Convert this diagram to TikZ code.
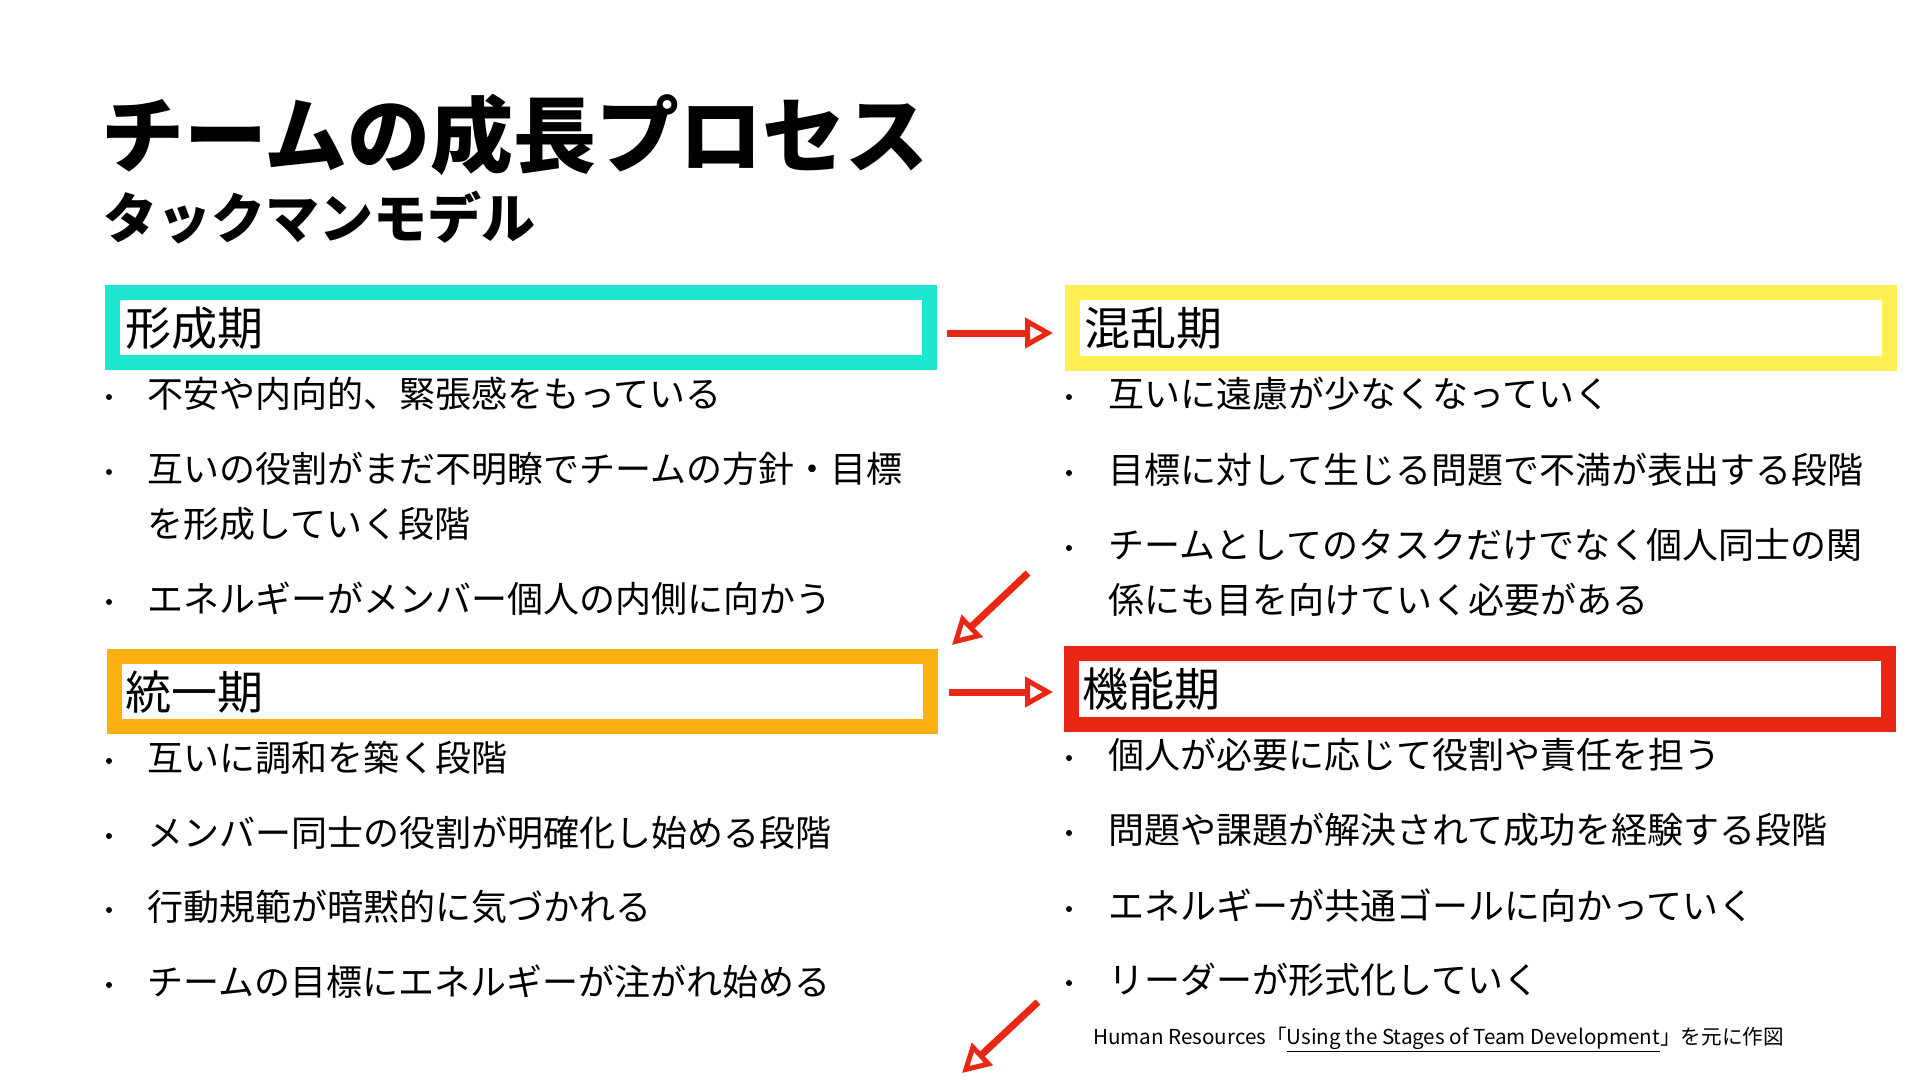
\documentclass[tikz,border=0pt]{standalone}
\usepackage{fontspec}
\setmainfont{Noto Sans CJK JP}
\usetikzlibrary{arrows.meta}
\definecolor{cteal}{RGB}{29,230,209}
\definecolor{cyellow}{RGB}{255,239,84}
\definecolor{corange}{RGB}{252,176,18}
\definecolor{cred}{RGB}{234,38,20}
\tikzset{
  stagebox/.style={draw=#1, line width=15pt, fill=none},
  head/.style={anchor=west, inner sep=0pt, font=\fontsize{46}{46}\selectfont, text height=40.5pt, text depth=5.5pt},
  txt/.style={anchor=west, inner sep=0pt, font=\fontsize{36}{36}\selectfont, text height=31.7pt, text depth=4.3pt},
  dot/.style={circle, fill=black, inner sep=0pt, minimum size=6pt},
  flow/.style={draw=cred, line width=7pt, -{Triangle[open, length=28pt, width=30pt, line width=5pt, fill=white]}},
}
\begin{document}
\begin{tikzpicture}[x=1pt, y=-1pt]
\useasboundingbox (0,0) rectangle (1920,1080);
\fill[white] (0,0) rectangle (1920,1080);

% title
\node[anchor=west, inner sep=0pt, font=\fontsize{83}{83}\selectfont\bfseries, text height=73pt, text depth=10pt] (title) at (101,135) {チームの成長プロセス};
\node[anchor=west, inner sep=0pt, font=\fontsize{54}{54}\selectfont\bfseries, text height=47.5pt, text depth=6.5pt] (subtitle) at (103,218) {タックマンモデル};

% boxes
\draw[stagebox=cteal] (112.5,292.5) rectangle (929.5,362.5);
\draw[stagebox=cyellow] (1072.5,292.5) rectangle (1889.5,363.5);
\draw[stagebox=corange] (114,656) rectangle (930,726);
\draw[stagebox=cred] (1071,653) rectangle (1888,724);

\node[head] (h1) at (125,328) {形成期};
\node[head] (h2) at (1084,328) {混乱期};
\node[head] (h3) at (125,692) {統一期};
\node[head] (h4) at (1082,689) {機能期};

% left top bullets
\node[dot] (d11) at (109,397) {};
\node[txt] (t11) at (147,394) {不安や内向的、緊張感をもっている};
\node[dot] (d12) at (109,472) {};
\node[txt] (t12) at (147,469) {互いの役割がまだ不明瞭でチームの方針・目標};
\node[txt] (t12b) at (147,524) {を形成していく段階};
\node[dot] (d13) at (109,602) {};
\node[txt] (t13) at (147,599) {エネルギーがメンバー個人の内側に向かう};

% right top bullets
\node[dot] (d21) at (1069,397) {};
\node[txt] (t21) at (1108,394) {互いに遠慮が少なくなっていく};
\node[dot] (d22) at (1069,473) {};
\node[txt] (t22) at (1108,470) {目標に対して生じる問題で不満が表出する段階};
\node[dot] (d23) at (1069,548) {};
\node[txt] (t23) at (1108,545) {チームとしてのタスクだけでなく個人同士の関};
\node[txt] (t23b) at (1108,600) {係にも目を向けていく必要がある};

% left bottom bullets
\node[dot] (d31) at (109,761) {};
\node[txt] (t31) at (147,758) {互いに調和を築く段階};
\node[dot] (d32) at (109,836) {};
\node[txt] (t32) at (147,833) {メンバー同士の役割が明確化し始める段階};
\node[dot] (d33) at (109,910) {};
\node[txt] (t33) at (147,907) {行動規範が暗黙的に気づかれる};
\node[dot] (d34) at (109,985) {};
\node[txt] (t34) at (147,982) {チームの目標にエネルギーが注がれ始める};

% right bottom bullets
\node[dot] (d41) at (1069,758) {};
\node[txt] (t41) at (1108,755) {個人が必要に応じて役割や責任を担う};
\node[dot] (d42) at (1069,833) {};
\node[txt] (t42) at (1108,830) {問題や課題が解決されて成功を経験する段階};
\node[dot] (d43) at (1069,909) {};
\node[txt] (t43) at (1108,906) {エネルギーが共通ゴールに向かっていく};
\node[dot] (d44) at (1069,983) {};
\node[txt] (t44) at (1108,980) {リーダーが形式化していく};

% footnote
\node[anchor=west, inner sep=0pt, font=\fontsize{20.6}{20.6}\selectfont, text height=18pt, text depth=2.6pt] (note) at (1093,1037) {Human Resources「\underline{Using the Stages of Team Development}」を元に作図};

% arrows
\coordinate (a1s) at (947,333);
\coordinate (a1e) at (1053,333);
\coordinate (a2s) at (1028,573);
\coordinate (a2e) at (952,645);
\coordinate (a3s) at (949,692);
\coordinate (a3e) at (1053,692);
\coordinate (a4s) at (1038,1002);
\coordinate (a4e) at (962,1073);
\draw[flow] (a1s) -- (a1e);
\draw[flow] (a2s) -- (a2e);
\draw[flow] (a3s) -- (a3e);
\draw[flow] (a4s) -- (a4e);
\end{tikzpicture}
\end{document}
